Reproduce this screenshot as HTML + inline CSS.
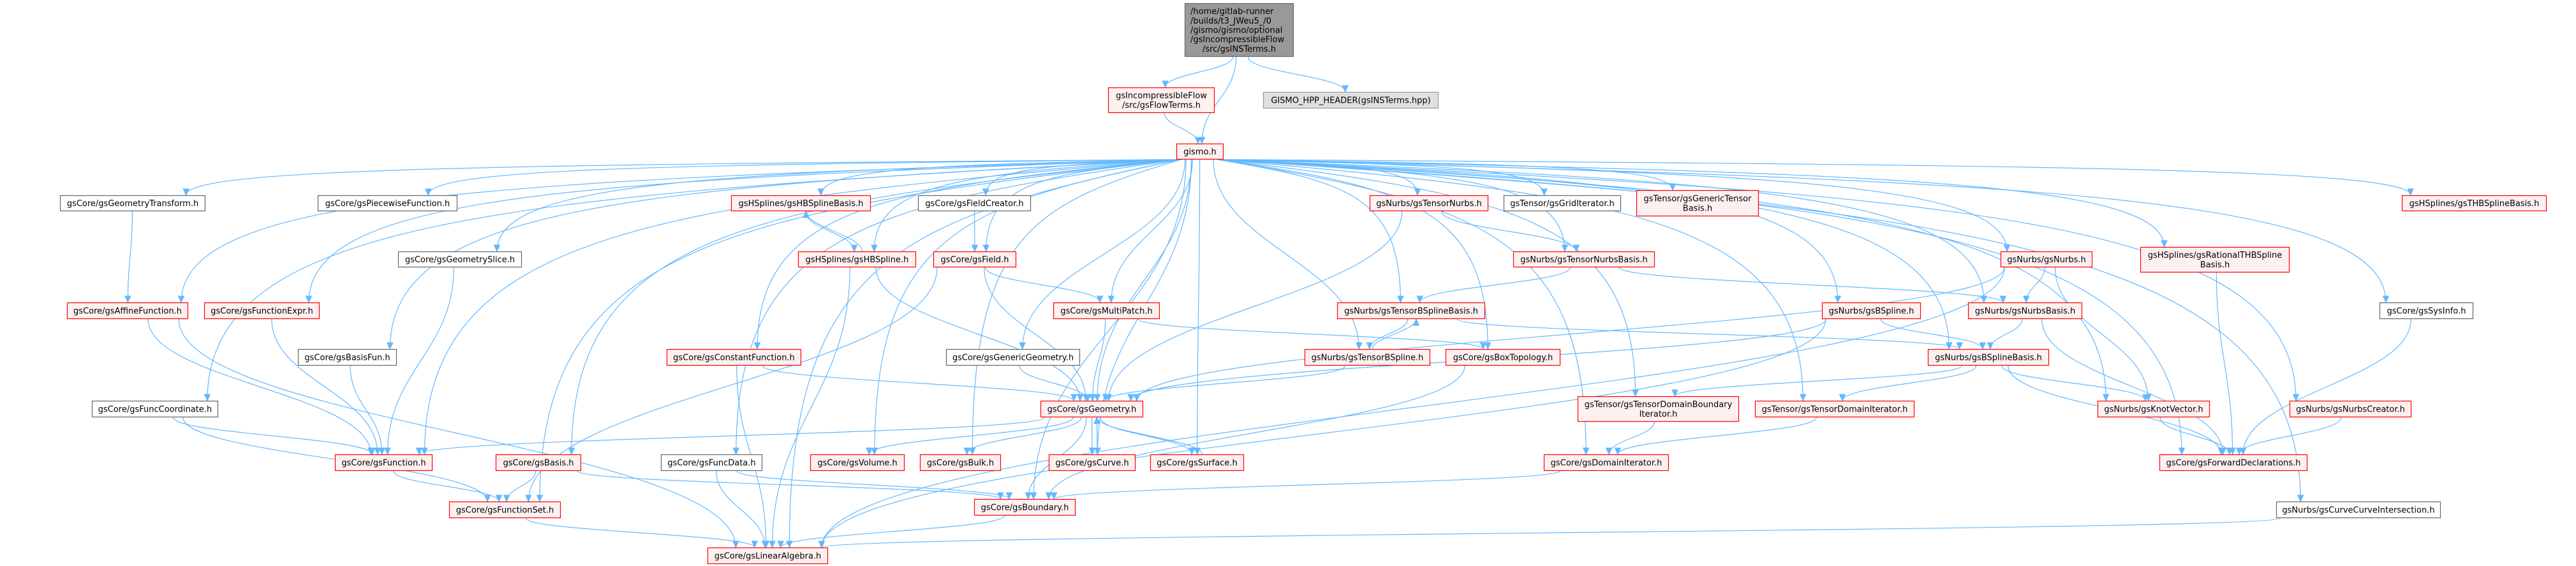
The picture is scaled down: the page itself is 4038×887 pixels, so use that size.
<!DOCTYPE html>
<html><head><meta charset="utf-8">
<style>
html,body{margin:0;padding:0;background:#fff;}
svg{display:block;}
text{font-family:"DejaVu Sans","Liberation Sans",sans-serif;font-size:13px;fill:#000;}
</style></head>
<body>
<svg id="g" xmlns="http://www.w3.org/2000/svg" width="4038" height="887" viewBox="0 0 4038 887">
<g id="edges" fill="none" stroke="#63b8ff" stroke-width="1.2"></g>
<g id="arrows" fill="#63b8ff" stroke="#63b8ff"></g>
<g id="nodes"></g>
</svg>
<script>
var N={
main:[1857,5,2028,89,'g',['/home/gitlab-runner','/builds/t3_JWeu5_/0','/gismo/gismo/optional','/gsIncompressibleFlow','/src/gsINSTerms.h']],
flow:[1737,137,1904,177,'r',['gsIncompressibleFlow','/src/gsFlowTerms.h']],
hpp:[1980,144,2255,170,'l',['GISMO_HPP_HEADER(gsINSTerms.hpp)']],
gismo:[1844,225,1918,250,'r',['gismo.h']],
gtr:[94,306,322,331,'w',['gsCore/gsGeometryTransform.h']],
pw:[498,306,717,331,'w',['gsCore/gsPiecewiseFunction.h']],
hbb:[1146,306,1365,331,'r',['gsHSplines/gsHBSplineBasis.h']],
fc:[1439,306,1616,331,'w',['gsCore/gsFieldCreator.h']],
tn:[2147,306,2333,331,'r',['gsNurbs/gsTensorNurbs.h']],
gi:[2357,306,2541,331,'w',['gsTensor/gsGridIterator.h']],
gtb:[2565,298,2757,339,'r',['gsTensor/gsGenericTensor','Basis.h']],
thb:[3765,306,3992,331,'r',['gsHSplines/gsTHBSplineBasis.h']],
gsl:[624,394,818,419,'w',['gsCore/gsGeometrySlice.h']],
hbs:[1251,394,1436,419,'r',['gsHSplines/gsHBSpline.h']],
fld:[1463,394,1593,419,'r',['gsCore/gsField.h']],
tnb:[2372,394,2594,419,'r',['gsNurbs/gsTensorNurbsBasis.h']],
nur:[3136,394,3280,419,'r',['gsNurbs/gsNurbs.h']],
rthb:[3355,387,3589,427,'r',['gsHSplines/gsRationalTHBSpline','Basis.h']],
aff:[105,474,295,500,'r',['gsCore/gsAffineFunction.h']],
fex:[320,474,501,500,'r',['gsCore/gsFunctionExpr.h']],
mp:[1651,474,1818,500,'r',['gsCore/gsMultiPatch.h']],
tbb:[2096,474,2328,500,'r',['gsNurbs/gsTensorBSplineBasis.h']],
bsp:[2856,474,3011,500,'r',['gsNurbs/gsBSpline.h']],
nb:[3085,474,3264,500,'r',['gsNurbs/gsNurbsBasis.h']],
sys:[3730,474,3877,500,'w',['gsCore/gsSysInfo.h']],
bfun:[467,547,622,573,'w',['gsCore/gsBasisFun.h']],
cf:[1045,547,1256,573,'r',['gsCore/gsConstantFunction.h']],
gg:[1483,547,1693,573,'w',['gsCore/gsGenericGeometry.h']],
tbs:[2045,547,2242,573,'r',['gsNurbs/gsTensorBSpline.h']],
box:[2266,547,2446,573,'r',['gsCore/gsBoxTopology.h']],
bsb:[3022,547,3212,573,'r',['gsNurbs/gsBSplineBasis.h']],
fco:[144,628,342,654,'w',['gsCore/gsFuncCoordinate.h']],
geo:[1631,628,1792,654,'r',['gsCore/gsGeometry.h']],
tdbi:[2473,621,2726,661,'r',['gsTensor/gsTensorDomainBoundary','Iterator.h']],
tdi:[2751,628,3001,654,'r',['gsTensor/gsTensorDomainIterator.h']],
kv:[3288,628,3464,654,'r',['gsNurbs/gsKnotVector.h']],
nc:[3589,628,3780,654,'r',['gsNurbs/gsNurbsCreator.h']],
fn:[525,712,678,738,'r',['gsCore/gsFunction.h']],
bas:[777,712,911,738,'r',['gsCore/gsBasis.h']],
fd:[1036,712,1195,738,'w',['gsCore/gsFuncData.h']],
vol:[1270,712,1418,738,'r',['gsCore/gsVolume.h']],
blk:[1442,712,1569,738,'r',['gsCore/gsBulk.h']],
crv:[1644,712,1780,738,'r',['gsCore/gsCurve.h']],
srf:[1803,712,1950,738,'r',['gsCore/gsSurface.h']],
di:[2420,712,2616,738,'r',['gsCore/gsDomainIterator.h']],
fwd:[3385,712,3617,738,'r',['gsCore/gsForwardDeclarations.h']],
fs:[704,786,879,812,'r',['gsCore/gsFunctionSet.h']],
bnd:[1527,782,1686,808,'r',['gsCore/gsBoundary.h']],
cci:[3568,786,3826,812,'w',['gsNurbs/gsCurveCurveIntersection.h']],
la:[1109,858,1298,884,'r',['gsCore/gsLinearAlgebra.h']]
};
var E=[['main','flow'],['main','gismo'],['main','hpp'],['flow','gismo']];
['gtr','pw','hbb','fc','tn','gi','gtb','thb','gsl','hbs','fld','tnb','nur','rthb','aff','fex','mp','tbb','bsp','nb','sys','bfun','cf','gg','tbs','box','bsb','fco','geo','tdbi','tdi','kv','nc','fn','bas','fd','vol','blk','crv','srf','di','fwd','fs','bnd','cci','la'].forEach(function(t){E.push(['gismo',t]);});
E=E.concat([['gtr','aff'],['gsl','fn'],['hbb','hbs'],['hbs','hbb'],['hbs','geo'],['hbs','la'],['fc','fld'],['fld','mp'],['fld','geo'],['fld','fs'],
['tn','geo'],['tn','tnb'],['tnb','tbb'],['tnb','nb'],['tbb','tbs'],['tbs','tbb'],['tbb','bsb'],['tbs','geo'],['mp','geo'],['mp','box'],['box','bnd'],
['nur','nb'],['nur','geo'],['nur','kv'],['nur','la'],['nb','bsb'],['nb','fwd'],['bsp','bsb'],['bsp','geo'],['bsp','la'],['bsb','tdbi'],['bsb','tdi'],['bsb','kv'],['bsb','fwd'],
['rthb','fwd'],['sys','fwd'],['nc','fwd'],['kv','fwd'],['tdbi','di'],['tdi','di'],['di','bnd'],['aff','fn'],['aff','la'],['fex','fn'],['bfun','fn'],['cf','geo'],['cf','la'],
['gg','geo'],['fco','fn'],['fco','fs'],['geo','fn'],['geo','vol'],['geo','blk'],['geo','crv'],['geo','srf'],['geo','bnd'],['crv','geo'],['srf','geo'],['fn','fs'],['bas','fs'],['bas','bnd'],
['fd','bnd'],['fd','la'],['fs','la'],['bnd','la'],['cci','la']]);
var NS='http://www.w3.org/2000/svg';
function el(n,a,p){var e=document.createElementNS(NS,n);for(var k in a)e.setAttribute(k,a[k]);p.appendChild(e);return e;}
var ge=document.getElementById('edges'),ga=document.getElementById('arrows'),gn=document.getElementById('nodes');
E.forEach(function(e,i){
 var s=N[e[0]],t=N[e[1]];
 var scx=(s[0]+s[2])/2,tcx=(t[0]+t[2])/2,sx,sy,tx,ty,c1x,c1y,c2x,c2y;
 if(t[1]>s[3]-2){ // downward
  sx=scx+Math.max(-(s[2]-s[0])/2+6,Math.min((s[2]-s[0])/2-6,(tcx-scx)*0.08));
  sy=s[3];tx=tcx+Math.max(-(t[2]-t[0])/2+10,Math.min((t[2]-t[0])/2-10,(scx-tcx)*0.05));ty=t[1];
  var dy=ty-sy;c1x=sx;c1y=sy+dy*0.45;c2x=tx;c2y=ty-dy*0.45;
  if(e[0]=='gismo'&&Math.abs(tcx-scx)>300){c1x=sx+(tx-sx)*0.7;c1y=sy+dy*0.15;c2x=tx;c2y=sy+dy*0.25;}
 } else { // upward
  sx=scx+8;sy=s[1];tx=tcx+8;ty=t[3];var dy2=sy-ty;c1x=sx;c1y=sy-dy2*0.4;c2x=tx;c2y=ty+dy2*0.4;
 }
 el('path',{d:'M'+sx+','+sy+' C'+c1x+','+c1y+' '+c2x+','+c2y+' '+tx+','+ty},ge);
 var ang=Math.atan2(ty-c2y,tx-c2x),L=10,W=4.5;
 var bx=tx-L*Math.cos(ang),by=ty-L*Math.sin(ang);
 var px=-Math.sin(ang)*W,py=Math.cos(ang)*W;
 el('polygon',{points:tx+','+ty+' '+(bx+px)+','+(by+py)+' '+(bx-px)+','+(by-py)},ga);
});
for(var k in N){var n=N[k];
 var fill={r:'#fff0f0',w:'#ffffff',g:'#999999',l:'#e0e0e0'}[n[4]],st={r:'#ff0000',w:'#666666',g:'#666666',l:'#999999'}[n[4]];
 el('rect',{x:n[0]+0.5,y:n[1]+0.5,width:n[2]-n[0]-1,height:n[3]-n[1]-1,fill:fill,stroke:st,'stroke-width':1.2},gn);
 var lines=n[5],lh=14.7,h=n[3]-n[1],y0=n[1]+h/2-(lines.length-1)*lh/2+4.5;
 lines.forEach(function(s,i){
  var t;
  if(k=='main'&&i<4){t=el('text',{x:n[0]+9,y:y0+i*lh},gn);}
  else t=el('text',{x:(n[0]+n[2])/2,y:y0+i*lh,'text-anchor':'middle'},gn);
  t.textContent=s;
  var maxw=n[2]-n[0]-14;
  try{var bw=t.getComputedTextLength();if(bw>maxw){t.setAttribute('textLength',maxw);t.setAttribute('lengthAdjust','spacingAndGlyphs');}}catch(x){}
 });
}
</script>
</body></html>
